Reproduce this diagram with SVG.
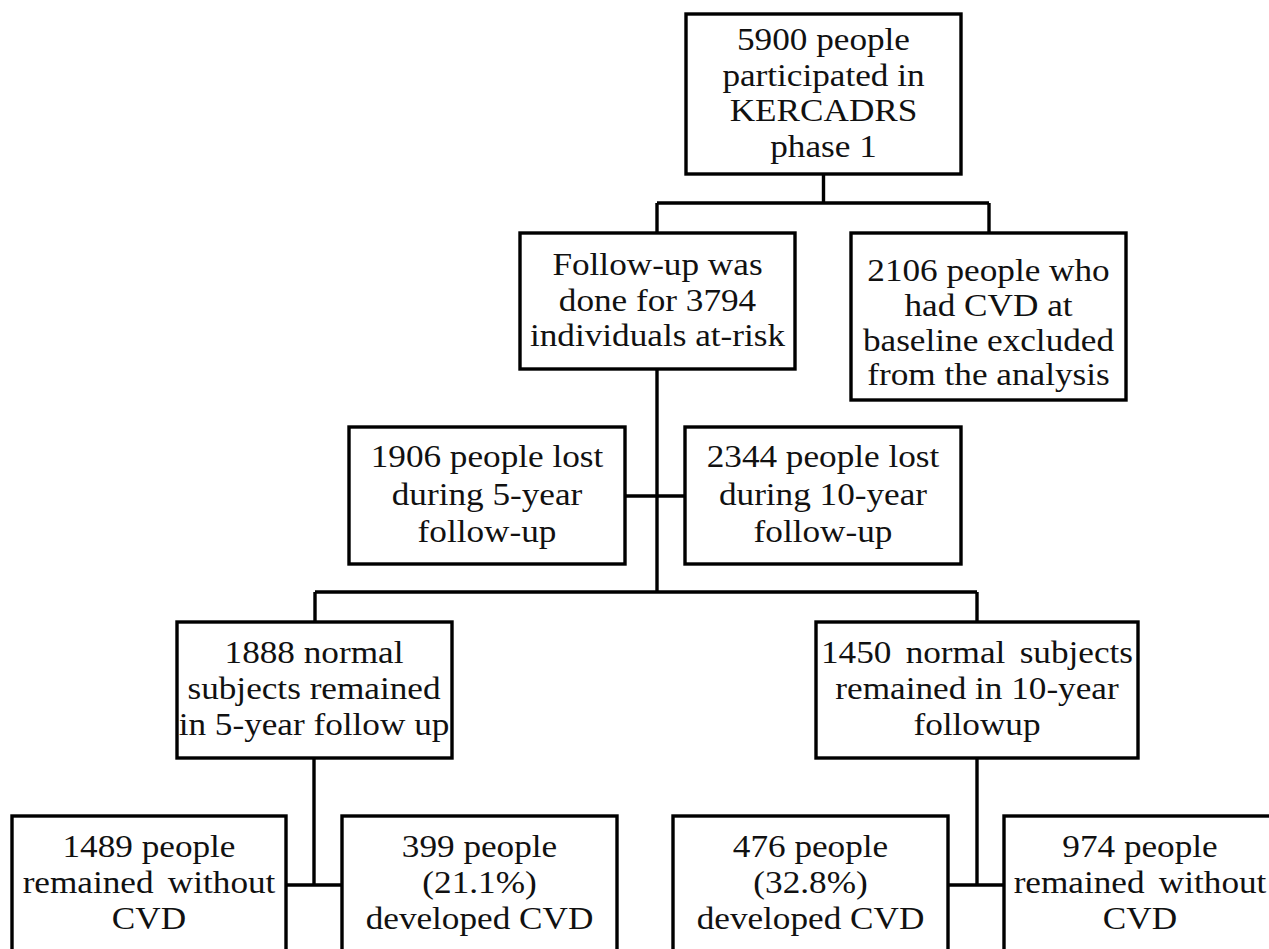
<svg xmlns="http://www.w3.org/2000/svg" width="1269" height="949" viewBox="0 0 1269 949">
<style>
.box{fill:#fff;stroke:#000;stroke-width:3.4}
.ln{fill:none;stroke:#000;stroke-width:3.4}
text{font-family:"Liberation Serif","Times New Roman",serif;font-size:32px;fill:#111;text-anchor:middle}
.ws{word-spacing:5px}
</style>
<rect width="1269" height="949" fill="#fff"/>
<g id="connectors">
<path class="ln" d="M823.5,174 V203 M657,203 H989 M657,203 V233 M989,203 V233"/>
<path class="ln" d="M657,369 V592 M625,496 H685 M315,592 H977 M315,592 V622 M977,592 V622"/>
<path class="ln" d="M314,758 V885 M286,885 H342 M977,758 V885 M948,885 H1004"/>
</g>
<g id="n_top">
<rect class="box" x="686" y="14" width="275" height="160"/>
<text transform="translate(823.5,0) scale(1.1,1)"><tspan x="0" y="50">5900 people</tspan><tspan x="0" y="86">participated in</tspan><tspan x="0" y="121">KERCADRS</tspan><tspan x="0" y="157">phase 1</tspan></text>
</g>
<g id="n_followup">
<rect class="box" x="520" y="233" width="275" height="136"/>
<text transform="translate(657.5,0) scale(1.1,1)"><tspan x="0" y="275">Follow-up was</tspan><tspan x="0" y="311">done for 3794</tspan><tspan x="0" y="346">individuals at-risk</tspan></text>
</g>
<g id="n_excluded">
<rect class="box" x="851" y="233" width="275" height="167"/>
<text transform="translate(988.5,0) scale(1.1,1)"><tspan x="0" y="281">2106 people who</tspan><tspan x="0" y="316">had CVD at</tspan><tspan x="0" y="351">baseline excluded</tspan><tspan x="0" y="385">from the analysis</tspan></text>
</g>
<g id="n_lost5">
<rect class="box" x="349" y="427" width="276" height="137"/>
<text transform="translate(487,0) scale(1.1,1)"><tspan x="0" y="467">1906 people lost</tspan><tspan x="0" y="505">during 5-year</tspan><tspan x="0" y="542">follow-up</tspan></text>
</g>
<g id="n_lost10">
<rect class="box" x="685" y="427" width="276" height="137"/>
<text transform="translate(823,0) scale(1.1,1)"><tspan x="0" y="467">2344 people lost</tspan><tspan x="0" y="505">during 10-year</tspan><tspan x="0" y="542">follow-up</tspan></text>
</g>
<g id="n_normal5">
<rect class="box" x="177" y="622" width="275" height="136"/>
<text transform="translate(314,0) scale(1.1,1)"><tspan x="0" y="663">1888 normal</tspan><tspan x="0" y="699">subjects remained</tspan><tspan x="0" y="735">in 5-year follow up</tspan></text>
</g>
<g id="n_normal10">
<rect class="box" x="816" y="622" width="322" height="136"/>
<text transform="translate(977,0) scale(1.1,1)"><tspan x="0" y="663" class="ws">1450 normal subjects</tspan><tspan x="0" y="699">remained in 10-year</tspan><tspan x="0" y="735">followup</tspan></text>
</g>
<g id="n_without5">
<rect class="box" x="12" y="816" width="274" height="150"/>
<text transform="translate(149,0) scale(1.1,1)"><tspan x="0" y="857">1489 people</tspan><tspan x="0" y="893" class="ws">remained without</tspan><tspan x="0" y="929">CVD</tspan></text>
</g>
<g id="n_dev5">
<rect class="box" x="342" y="816" width="275" height="150"/>
<text transform="translate(479.5,0) scale(1.1,1)"><tspan x="0" y="857">399 people</tspan><tspan x="0" y="893">(21.1%)</tspan><tspan x="0" y="929">developed CVD</tspan></text>
</g>
<g id="n_dev10">
<rect class="box" x="673" y="816" width="275" height="150"/>
<text transform="translate(810.5,0) scale(1.1,1)"><tspan x="0" y="857">476 people</tspan><tspan x="0" y="893">(32.8%)</tspan><tspan x="0" y="929">developed CVD</tspan></text>
</g>
<g id="n_without10">
<rect class="box" x="1004" y="816" width="275" height="150"/>
<text transform="translate(1140,0) scale(1.1,1)"><tspan x="0" y="857">974 people</tspan><tspan x="0" y="893" class="ws">remained without</tspan><tspan x="0" y="929">CVD</tspan></text>
</g>
</svg>
